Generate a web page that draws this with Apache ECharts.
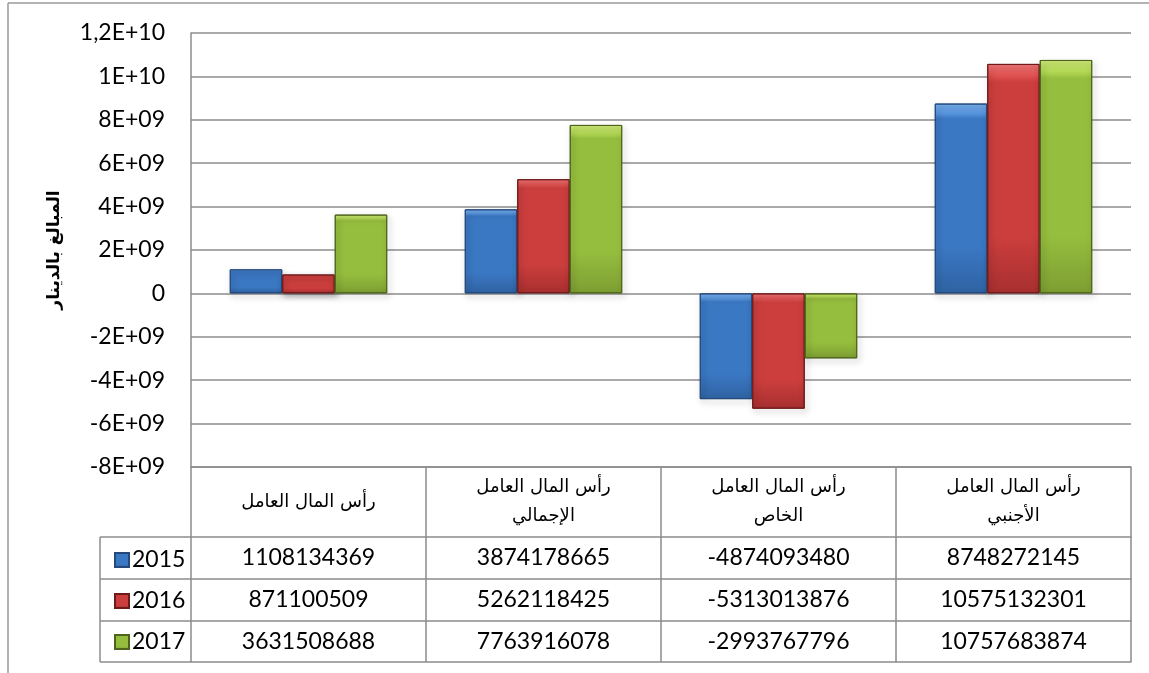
<!DOCTYPE html>
<html>
<head>
<meta charset="utf-8">
<script src="https://cdn.jsdelivr.net/npm/echarts@6/dist/echarts.min.js"></script>
<style>
html,body{margin:0;padding:0;background:#fff;}
#c{width:1149px;height:673px;}
</style>
</head>
<body>
<div id="c"></div>
<script>
// ---- data ----
var categories = ['رأس المال العامل', 'رأس المال العامل\nالإجمالي', 'رأس المال العامل\nالخاص', 'رأس المال العامل\nالأجنبي'];
var seriesNames = ['2015', '2016', '2017'];
var s2015 = [1108134369, 3874178665, -4874093480, 8748272145];
var s2016 = [871100509, 5262118425, -5313013876, 10575132301];
var s2017 = [3631508688, 7763916078, -2993767796, 10757683874];
var yTickValues = [-8e9, -6e9, -4e9, -2e9, 0, 2e9, 4e9, 6e9, 8e9, 1e10, 1.2e10];
var yTickLabels = ['-8E+09', '-6E+09', '-4E+09', '-2E+09', '0', '2E+09', '4E+09', '6E+09', '8E+09', '1E+10', '1,2E+10'];
var yAxisTitle = 'المبالغ بالدينار';

// ---- styles ----
var GRID = {left: 191, right: 18, top: 33, bottom: 206};
var LINE = '#8c8c8c';
var NUM_FONT = 'Lato';
var AR_FONT = 'DejaVu Sans';

function grad(c0, c1, c2, c3) {
  return new echarts.graphic.LinearGradient(0, 0, 0, 1, [
    {offset: 0, color: c0}, {offset: 0.05, color: c1}, {offset: 0.08, color: c2}, {offset: 0.75, color: c2}, {offset: 1, color: c3}
  ]);
}
var styles = [
  {color: grad('#78b2f2', '#5a97e0', '#3b78c4', '#2f63a3'), borderColor: '#24497a'},
  {color: grad('#f27474', '#e05252', '#cc3e3e', '#a82f2f'), borderColor: '#6e1a1a'},
  {color: grad('#cfe978', '#b2d855', '#96be3e', '#7d9e32'), borderColor: '#4d641a'}
];
var data = [s2015, s2016, s2017];

var chart = echarts.init(document.getElementById('c'), null, {renderer: 'canvas'});

var rowOffsets = [70, 112, 154];
var xAxes = [{
  type: 'category', data: categories, position: 'bottom', gridIndex: 0,
  axisLine: {show: true, onZero: false, lineStyle: {color: LINE, width: 1.5}},
  axisTick: {show: true, length: 195, interval: 0, lineStyle: {color: LINE, width: 1.5}},
  axisLabel: {interval: 0, margin: 35, verticalAlign: 'middle', fontFamily: AR_FONT, fontSize: 18, lineHeight: 29, color: '#000'}
}];
data.forEach(function (arr, i) {
  xAxes.push({
    type: 'category', data: arr.map(String), position: 'bottom', offset: rowOffsets[i], gridIndex: 0,
    axisLine: {show: true, onZero: false, lineStyle: {color: LINE, width: 1.5}},
    axisTick: {show: false},
    axisLabel: {interval: 0, margin: 21, verticalAlign: 'middle', fontFamily: NUM_FONT, fontSize: 23, color: '#000'}
  });
});
xAxes.push({
  type: 'category', data: categories.map(function () { return ''; }), position: 'bottom', offset: 195, gridIndex: 0,
  axisLine: {show: true, onZero: false, lineStyle: {color: LINE, width: 1.5}},
  axisTick: {show: false}, axisLabel: {show: false}
});

var option = {
  animation: false,
  backgroundColor: '#fff',
  grid: {left: GRID.left, right: GRID.right, top: GRID.top, bottom: GRID.bottom, containLabel: false},
  legend: {
    orient: 'vertical', left: 109, top: 542,
    itemWidth: 14, itemHeight: 14, itemGap: 15,
    icon: 'rect',
    data: seriesNames,
    textStyle: {fontFamily: NUM_FONT, fontSize: 23, lineHeight: 26, color: '#000', padding: [0, 0, 0, -2]}
  },
  xAxis: xAxes,
  yAxis: {
    type: 'value', min: -8e9, max: 1.2e10, interval: 2e9,
    name: yAxisTitle, nameLocation: 'middle', nameRotate: 90, nameGap: 128,
    nameTextStyle: {fontFamily: AR_FONT, fontSize: 17, fontWeight: 'bold', color: '#000'},
    axisLine: {show: true, lineStyle: {color: LINE, width: 1.5}},
    axisTick: {show: false},
    axisLabel: {
      margin: 26, fontFamily: NUM_FONT, fontSize: 23, color: '#000',
      formatter: function (v) {
        for (var i = 0; i < yTickValues.length; i++) {
          if (Math.abs(yTickValues[i] - v) < 1) return yTickLabels[i];
        }
        return '';
      }
    },
    splitLine: {show: true, lineStyle: {color: LINE, width: 1.5}}
  },
  series: data.map(function (arr, i) {
    return {
      name: seriesNames[i], type: 'bar', xAxisIndex: 0, data: arr,
      barGap: '0%', barCategoryGap: '33%',
      itemStyle: {
        color: styles[i].color, borderColor: styles[i].borderColor, borderWidth: 1,
        shadowBlur: 6, shadowOffsetX: 2, shadowOffsetY: 3, shadowColor: 'rgba(0,0,0,0.35)'
      }
    };
  })
};
chart.setOption(option);

// table legend column box + outer border, placed from the grid geometry
var axisBottom = 673 - GRID.bottom;
var tableLeft = 100;
var rowsY = [70, 112, 154, 195].map(function (o) { return axisBottom + o; });
var g = [];
rowsY.forEach(function (y) {
  g.push({type: 'line', shape: {x1: tableLeft, y1: y, x2: GRID.left, y2: y}, style: {stroke: LINE, lineWidth: 1.5}});
});
g.push({type: 'line', shape: {x1: tableLeft, y1: rowsY[0], x2: tableLeft, y2: rowsY[3]}, style: {stroke: LINE, lineWidth: 1.5}});
g.push({type: 'line', shape: {x1: 8, y1: 3, x2: 1149, y2: 3}, style: {stroke: '#9a9a9a', lineWidth: 1.5}});
g.push({type: 'line', shape: {x1: 8, y1: 3, x2: 8, y2: 673}, style: {stroke: '#9a9a9a', lineWidth: 1.5}});
chart.setOption({graphic: g});
</script>
</body>
</html>
